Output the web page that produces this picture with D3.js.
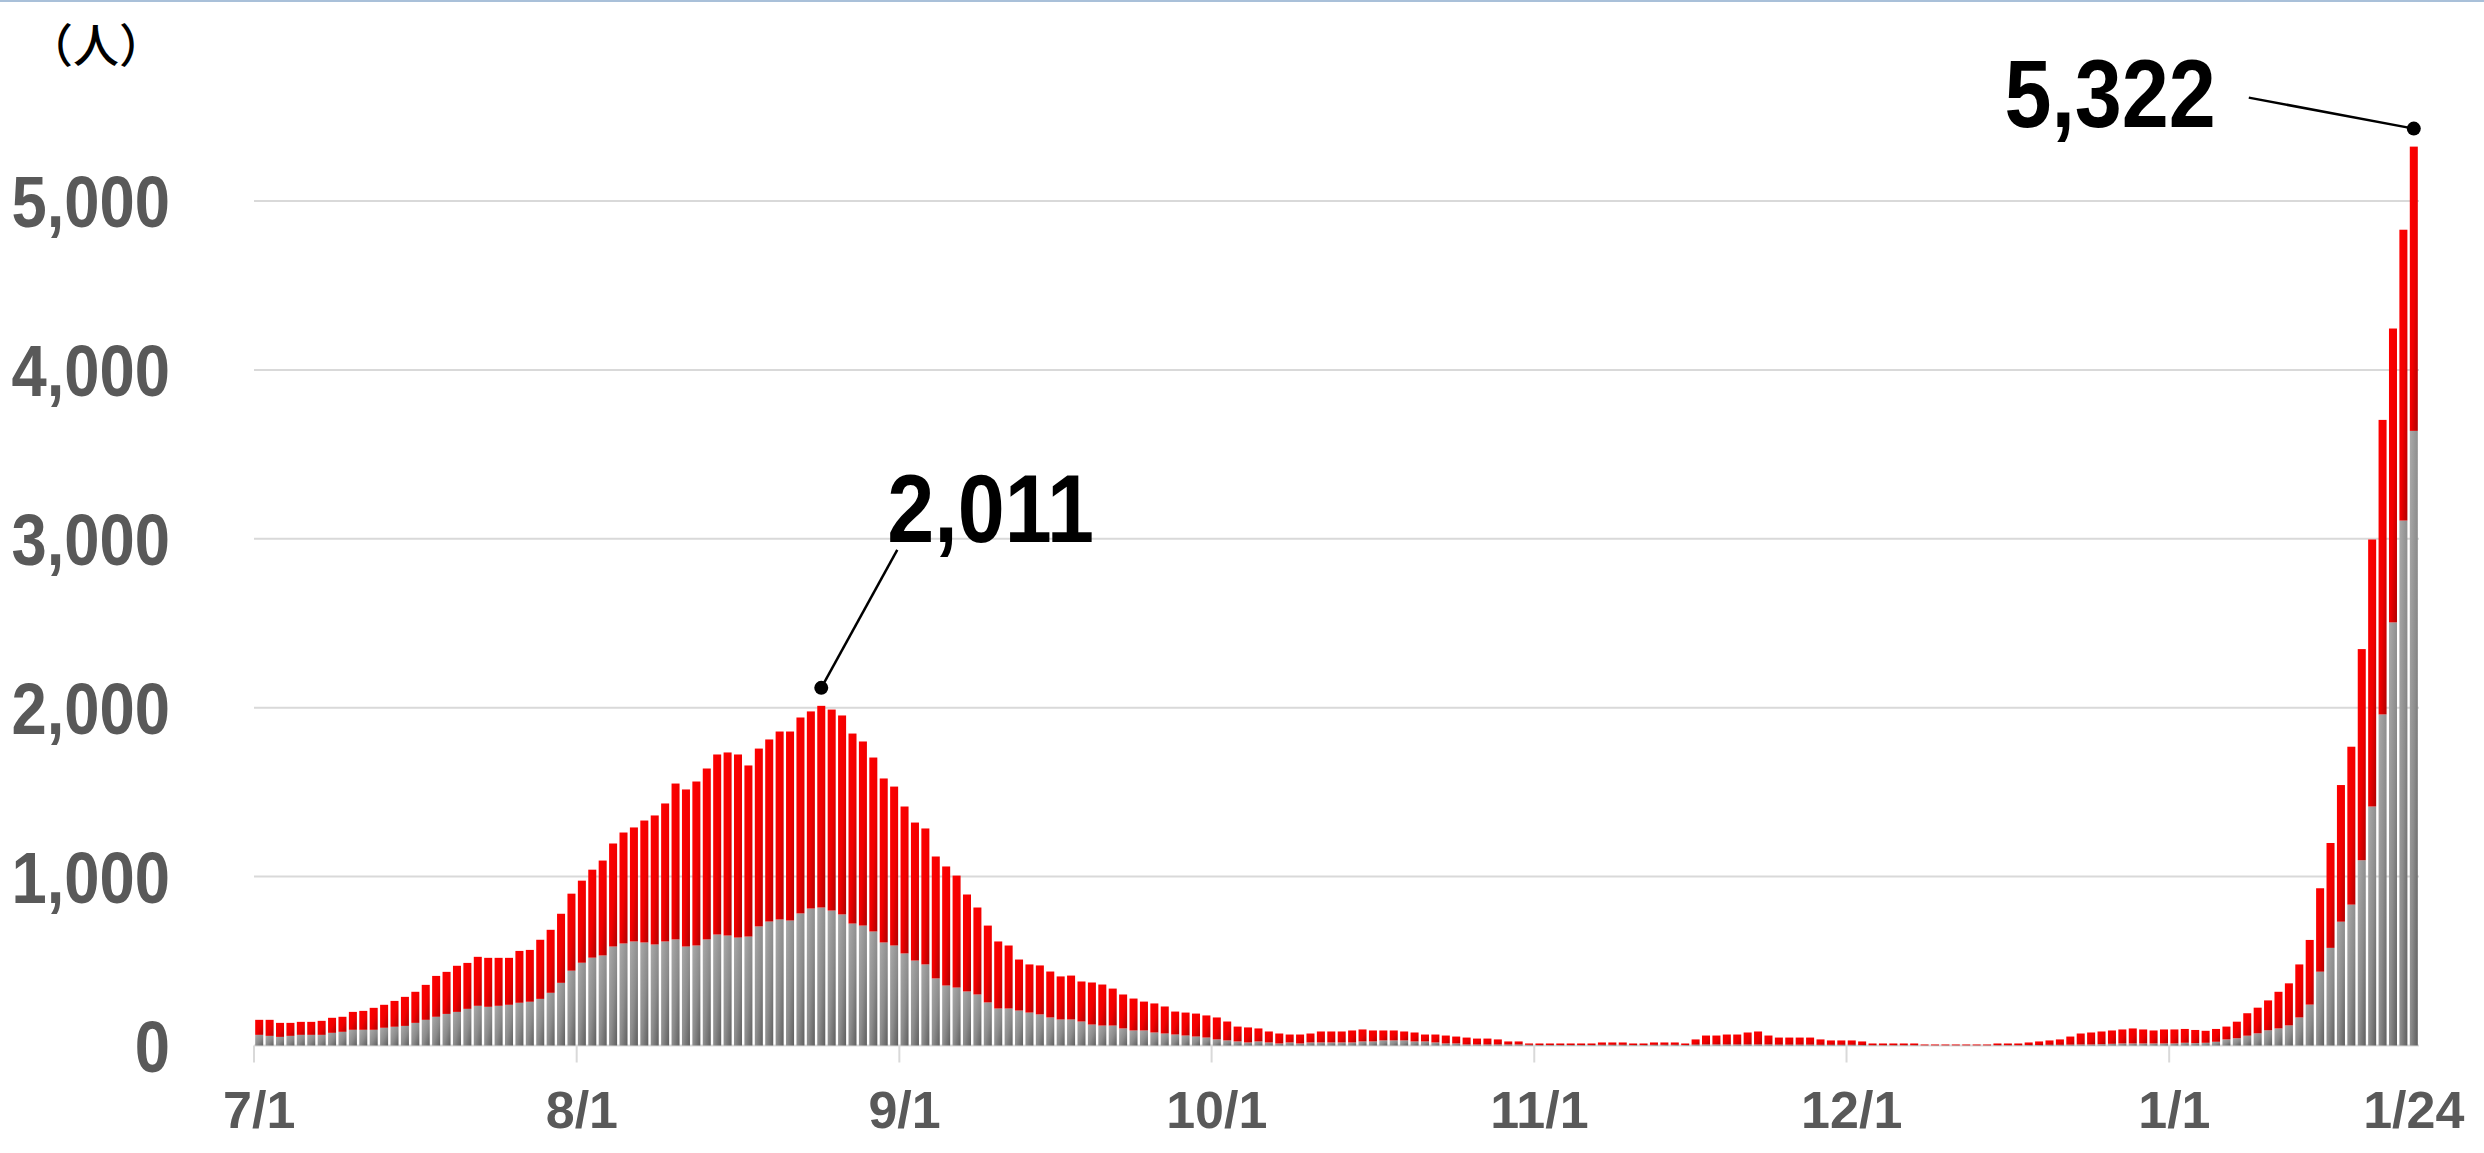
<!DOCTYPE html>
<html lang="ja">

<head>
  <meta charset="UTF-8">
  <script src="https://cdn.jsdelivr.net/npm/d3@7"></script>
  <title>新規陽性者数の推移</title>
  <style>
    body { margin: 0; background: #fff; }
  </style>
</head>

<body>
  <script>
  // 7/1 〜 1/24 の日別人数（合計と下段グレー部分）
  const totals = [
    // 7月
    152, 152, 134, 134, 140, 140, 146, 164, 170, 199, 205, 223, 241, 264, 288, 318,
    359, 412, 436, 472, 489, 525, 519, 519, 519, 560, 566, 626, 685, 780, 899,
    // 8月
    976, 1041, 1095, 1196, 1261, 1291, 1332, 1362, 1433, 1551, 1516, 1563, 1640, 1723, 1735, 1723,
    1658, 1758, 1812, 1859, 1859, 1942, 1978, 2011, 1989, 1954, 1847, 1800, 1705, 1581, 1533,
    // 9月
    1415, 1320, 1285, 1119, 1060, 1006, 894, 817, 710, 616, 592, 509, 480, 474, 438,
    409, 414, 379, 373, 361, 337, 302, 278, 260, 249, 231, 201, 195, 189, 178,
    // 10月
    166, 142, 112, 107, 101, 83, 71, 65, 65, 71, 83, 83, 83, 89, 95, 89,
    89, 89, 83, 77, 65, 65, 59, 53, 47, 41, 41, 36, 24, 24, 12,
    // 11月
    12, 12, 12, 12, 12, 12, 18, 18, 18, 12, 12, 18, 18, 18, 12,
    36, 59, 59, 65, 65, 77, 83, 59, 47, 47, 47, 47, 36, 30, 30,
    // 12月
    30, 24, 12, 12, 12, 12, 12, 6, 6, 6, 6, 6, 6, 6, 12, 12,
    12, 18, 24, 30, 36, 53, 71, 77, 83, 89, 95, 101, 95, 89, 95,
    // 1月
    95, 98, 92, 87, 98, 112, 141, 191, 224, 267, 318, 368,
    480, 625, 931, 1199, 1542, 1769, 2347, 2996, 3704, 4245, 4830, 5322
  ];

  const grayValues = [
    // 7月
    63, 57, 51, 57, 63, 63, 63, 75, 81, 93, 93, 93, 105, 111, 116, 134,
    152, 170, 187, 199, 217, 235, 229, 235, 241, 253, 259, 276, 312, 371, 443,
    // 8月
    490, 520, 533, 586, 604, 616, 610, 598, 616, 628, 586, 592, 628, 657, 651, 639,
    645, 705, 734, 746, 740, 782, 811, 817, 799, 776, 722, 710, 675, 610, 592,
    // 9月
    545, 503, 480, 397, 355, 343, 320, 302, 255, 219, 219, 207, 195, 184, 166,
    154, 154, 142, 124, 118, 118, 101, 89, 89, 77, 71, 65, 59, 53, 47,
    // 10月
    36, 30, 24, 18, 24, 18, 12, 18, 12, 18, 18, 18, 18, 18, 24, 24,
    30, 30, 30, 24, 24, 18, 12, 12, 6, 6, 6, 6, 6, 6, 4,
    // 11月
    3, 3, 3, 3, 3, 3, 4, 4, 4, 3, 3, 4, 4, 4, 3,
    5, 6, 6, 6, 6, 6, 6, 6, 5, 5, 5, 5, 4, 4, 4,
    // 12月
    4, 3, 2, 2, 2, 2, 2, 1, 1, 1, 1, 1, 1, 1, 2, 2,
    2, 3, 3, 4, 4, 5, 6, 6, 8, 10, 12, 12, 12, 12, 12,
    // 1月
    12, 16, 14, 16, 22, 36, 43, 58, 72, 90, 101, 119,
    166, 242, 437, 578, 733, 834, 1097, 1415, 1960, 2505, 3108, 3639
  ];

  const days = d3.timeDay.range(new Date(2021, 6, 1), new Date(2022, 0, 25));
  const categories = days.map(d => (d.getMonth() + 1) + "/" + d.getDate());

  const tickLabels = ["7/1", "8/1", "9/1", "10/1", "11/1", "12/1", "1/1", "1/24"];
  const tickMarks = ["7/1", "8/1", "9/1", "10/1", "11/1", "12/1", "1/1"];
  const yTicks = [0, 1000, 2000, 3000, 4000, 5000];
  const peakDays = ["8/24", "1/24"];

  const W = 2484, H = 1153;
  const left = 254, right = 2419, base = 1045.5, top5000 = 201;

  const svg = d3.select("body").append("svg")
    .attr("width", W)
    .attr("height", H)
    .style("display", "block");

  // グラデーション
  const defs = svg.append("defs");
  const gradRed = defs.append("linearGradient").attr("id", "gRed")
    .attr("x1", 0).attr("y1", 0).attr("x2", 1).attr("y2", 1);
  gradRed.append("stop").attr("offset", 0).attr("stop-color", "#ff0000");
  gradRed.append("stop").attr("offset", 0.55).attr("stop-color", "#f00000");
  gradRed.append("stop").attr("offset", 1).attr("stop-color", "#b00000");
  const gradGray = defs.append("linearGradient").attr("id", "gGray")
    .attr("x1", 0).attr("y1", 0).attr("x2", 1).attr("y2", 1);
  gradGray.append("stop").attr("offset", 0).attr("stop-color", "#aaaaaa");
  gradGray.append("stop").attr("offset", 0.55).attr("stop-color", "#8c8c8c");
  gradGray.append("stop").attr("offset", 1).attr("stop-color", "#5e5e5e");

  // 上端の枠線
  svg.append("line")
    .attr("x1", 0).attr("x2", W).attr("y1", 1).attr("y2", 1)
    .attr("stroke", "#a9c0d9").attr("stroke-width", 2);

  const x = d3.scaleBand()
    .domain(categories)
    .range([left, right])
    .paddingInner(0.23)
    .paddingOuter(0.115);

  const y = d3.scaleLinear()
    .domain([0, 5000])
    .range([base, top5000]);

  // 目盛線
  svg.append("g")
    .selectAll("line")
    .data(yTicks)
    .enter()
    .append("line")
    .attr("x1", left).attr("x2", right)
    .attr("y1", d => y(d)).attr("y2", d => y(d))
    .attr("stroke", "#d9d9d9")
    .attr("stroke-width", 2);

  // x軸の目盛り（月初の区切り）
  const slotLeft = d => x(d) - x.step() * x.paddingInner() / 2;
  svg.append("g")
    .selectAll("line")
    .data(tickMarks)
    .enter()
    .append("line")
    .attr("x1", d => slotLeft(d)).attr("x2", d => slotLeft(d))
    .attr("y1", base).attr("y2", base + 17)
    .attr("stroke", "#d9d9d9")
    .attr("stroke-width", 2);

  // 棒（下段グレー、上段赤）
  const rows = categories.map((c, i) => ({ day: c, gray: grayValues[i], total: totals[i] }));

  svg.append("g")
    .selectAll("rect")
    .data(rows)
    .enter()
    .append("rect")
    .attr("x", d => x(d.day))
    .attr("width", x.bandwidth())
    .attr("y", d => y(d.gray))
    .attr("height", d => base - y(d.gray))
    .attr("fill", "url(#gGray)");

  svg.append("g")
    .selectAll("rect")
    .data(rows)
    .enter()
    .append("rect")
    .attr("x", d => x(d.day))
    .attr("width", x.bandwidth())
    .attr("y", d => y(d.total))
    .attr("height", d => y(d.gray) - y(d.total))
    .attr("fill", "url(#gRed)");

  // x軸ラベル
  const xAxis = svg.append("g")
    .attr("transform", "translate(0," + base + ")")
    .call(d3.axisBottom(x).tickValues(tickLabels).tickSize(0).tickPadding(82));
  xAxis.select(".domain").remove();
  xAxis.selectAll("text")
    .attr("dy", 0)
    .style("font-family", "'Liberation Sans', Arial, sans-serif")
    .style("font-weight", "bold")
    .style("font-size", "52px")
    .attr("fill", "#595959");

  // y軸ラベル
  const sx = 0.88;
  const yAxis = svg.append("g")
    .attr("transform", "translate(" + left + ",0)")
    .call(d3.axisLeft(y).tickValues(yTicks).tickFormat(d3.format(",")).tickSize(0));
  yAxis.select(".domain").remove();
  yAxis.selectAll("text")
    .attr("x", -84 / sx)
    .attr("dy", "0.36em")
    .attr("transform", "scale(" + sx + ",1)")
    .style("font-family", "'Liberation Sans', Arial, sans-serif")
    .style("font-weight", "bold")
    .style("font-size", "72px")
    .attr("fill", "#595959");

  // 単位
  svg.append("text")
    .attr("x", 27).attr("y", 62)
    .style("font-family", "'Noto Sans CJK JP', sans-serif")
    .style("font-weight", 500)
    .style("font-size", "46px")
    .attr("fill", "#000")
    .text("（人）");

  // ピークの注記
  const fmt = d3.format(",");
  const callouts = [
    { day: peakDays[0], lineDx: 76, lineDy: -138, textDx: 66, textDy: -146, anchor: "start" },
    { day: peakDays[1], lineDx: -165, lineDy: -31, textDx: -198, textDy: -2, anchor: "end" }
  ];

  callouts.forEach(c => {
    const v = totals[categories.indexOf(c.day)];
    const cx = x(c.day) + x.bandwidth() / 2;
    const cy = y(v) - 18;
    svg.append("line")
      .attr("x1", cx).attr("y1", cy)
      .attr("x2", cx + c.lineDx).attr("y2", cy + c.lineDy)
      .attr("stroke", "#000").attr("stroke-width", 2.5);
    svg.append("circle")
      .attr("cx", cx).attr("cy", cy).attr("r", 7)
      .attr("fill", "#000");
    svg.append("text")
      .attr("transform", "translate(" + (cx + c.textDx) + "," + (cy + c.textDy) + ") scale(" + sx + ",1)")
      .attr("text-anchor", c.anchor)
      .style("font-family", "'Liberation Sans', Arial, sans-serif")
      .style("font-weight", "bold")
      .style("font-size", "96px")
      .attr("fill", "#000")
      .text(fmt(v));
  });
  </script>
</body>
</html>
